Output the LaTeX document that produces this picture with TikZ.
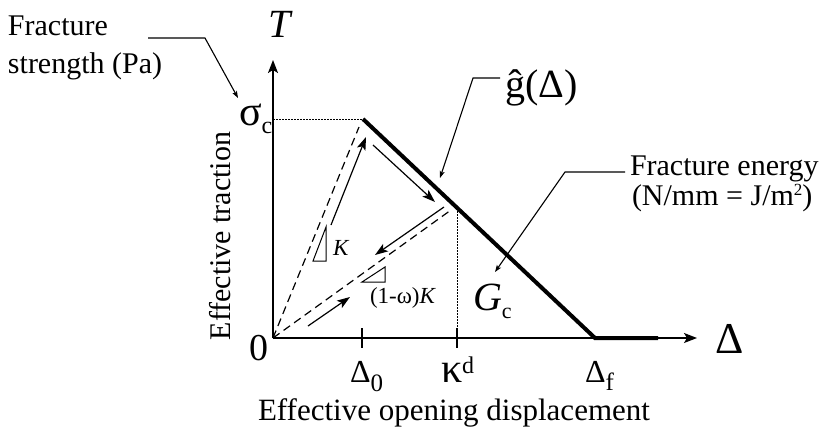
\documentclass[tikz,border=0pt]{standalone}
\usepackage{fontspec}
\setmainfont{Liberation Serif}
\usetikzlibrary{arrows.meta}
\newcommand{\fsz}[1]{\fontsize{#1}{#1}\selectfont}
\tikzset{
  txt/.style={inner sep=0pt, outer sep=0pt},
  axisline/.style={line width=1.4pt, -{Stealth[length=13pt,width=10pt,inset=3pt]}},
  mvarrow/.style={line width=1.2pt, -{Stealth[length=13pt,width=9pt,inset=3pt]}},
  leader/.style={line width=1.1pt, -{Stealth[length=7pt,width=5pt,inset=1.5pt]}},
  thickcurve/.style={line width=4pt, line join=miter},
  dashline/.style={line width=1.2pt, dash pattern=on 8pt off 5pt},
  dotline/.style={line width=0.9pt, dash pattern=on 1.5pt off 1.5pt},
  tickline/.style={line width=1.2pt},
  slopetri/.style={line width=1pt}
}
\begin{document}
\begin{tikzpicture}[x=1pt,y=-1pt]
\useasboundingbox (0,0) rectangle (828,432);
% key points
\coordinate (O) at (273,338);
\coordinate (Ytip) at (273,60);
\coordinate (Xtip) at (697,338);
\coordinate (P) at (363,119);
\coordinate (Sy) at (273,119);
\coordinate (F) at (595,338);
\coordinate (Fend) at (658,338);
\coordinate (Kd) at (457,208);
\coordinate (Kdx) at (457,338);
\coordinate (D1) at (359,127);
\coordinate (D2) at (451,210);
% axes
\draw[axisline] (O) -- (Ytip);
\draw[axisline] (O) -- (Xtip);
% ticks
\coordinate (t0a) at (362,328); \coordinate (t0b) at (362,348);
\coordinate (tka) at (457,328); \coordinate (tkb) at (457,348);
\draw[tickline] (t0a) -- (t0b);
\draw[tickline] (tka) -- (tkb);
% dotted guides
\draw[dotline] (Sy) -- (P);
\draw[dotline] (Kd) -- (Kdx);
% dashed lines
\draw[dashline] (O) -- (D1);
\draw[dashline] (O) -- (D2);
% thick softening curve
\draw[thickcurve] (P) -- (F) -- (Fend);
% moving arrows
\coordinate (a1s) at (331,225); \coordinate (a1e) at (366,137);
\coordinate (a2s) at (373,145); \coordinate (a2e) at (435,202);
\coordinate (a3s) at (444,207); \coordinate (a3e) at (375,255);
\coordinate (a4s) at (308,326); \coordinate (a4e) at (350,297);
\draw[mvarrow] (a1s) -- (a1e);
\draw[mvarrow] (a2s) -- (a2e);
\draw[mvarrow] (a3s) -- (a3e);
\draw[mvarrow] (a4s) -- (a4e);
% slope triangles
\coordinate (k1) at (313,261); \coordinate (k2) at (326,261); \coordinate (k3) at (326,227);
\draw[slopetri] (k1) -- (k2) -- (k3) -- cycle;
\coordinate (w1) at (362,282); \coordinate (w2) at (385,282); \coordinate (w3) at (385,267);
\draw[slopetri] (w1) -- (w2) -- (w3) -- cycle;
% labels
\node[txt, anchor=base west, font=\fsz{30}] (fs1) at (8,35) {Fracture};
\node[txt, anchor=base west, font=\fsz{30}] (fs2) at (8,73) {strength (Pa)};
\node[txt, anchor=base, font=\fsz{40}] (T) at (281,37) {\textit{T}};
\node[txt, anchor=base west, font=\fsz{42}] (sig) at (239,125) {σ\raisebox{-8pt}{\fsz{24}c}};
\node[txt, anchor=base, font=\fsz{38}] (zero) at (259,360) {0};
\node[txt, anchor=base west, font=\fsz{32}] (d0) at (350,382) {Δ\raisebox{-9pt}{\fsz{25}0}};
\node[txt, anchor=base west, font=\fsz{42}] (kd) at (441,382) {κ\raisebox{9pt}{\fsz{24}d}};
\node[txt, anchor=base west, font=\fsz{32}] (df) at (585,382) {Δ\raisebox{-8pt}{\fsz{25}f}};
\node[txt, anchor=base, font=\fsz{31}] (xl) at (454,420) {Effective opening displacement};
\node[txt, anchor=base, rotate=90, font=\fsz{30}] (yl) at (230,236) {Effective traction};
\node[txt, anchor=base west, font=\fsz{40}] (g) at (505,97) {ĝ(Δ)};
\node[txt, anchor=base west, font=\fsz{44}] (dx) at (715,353) {Δ};
\node[txt, anchor=base west, font=\fsz{40}] (gc) at (473,310) {\textit{G}\raisebox{-8pt}{\fsz{22}c}};
\node[txt, anchor=base west, font=\fsz{23}] (K) at (333,255) {\textit{K}};
\node[txt, anchor=base west, font=\fsz{23}] (wK) at (370,303) {(1-ω)\textit{K}};
\node[txt, anchor=base west, font=\fsz{30}] (fe1) at (630,175) {Fracture energy};
\node[txt, anchor=base west, font=\fsz{30}] (fe2) at (632,205) {(N/mm = J/m\raisebox{10pt}{\fsz{17}2})};
% leaders
\coordinate (l1a) at (148,38); \coordinate (l1b) at (205,38); \coordinate (l1c) at (238,98);
\draw[leader] (l1a) -- (l1b) -- (l1c);
\coordinate (l2a) at (500,78); \coordinate (l2b) at (473,78); \coordinate (l2c) at (440,178);
\draw[leader] (l2a) -- (l2b) -- (l2c);
\coordinate (l3a) at (625,172); \coordinate (l3b) at (565,172); \coordinate (l3c) at (495,272);
\draw[leader] (l3a) -- (l3b) -- (l3c);
\end{tikzpicture}
\end{document}
